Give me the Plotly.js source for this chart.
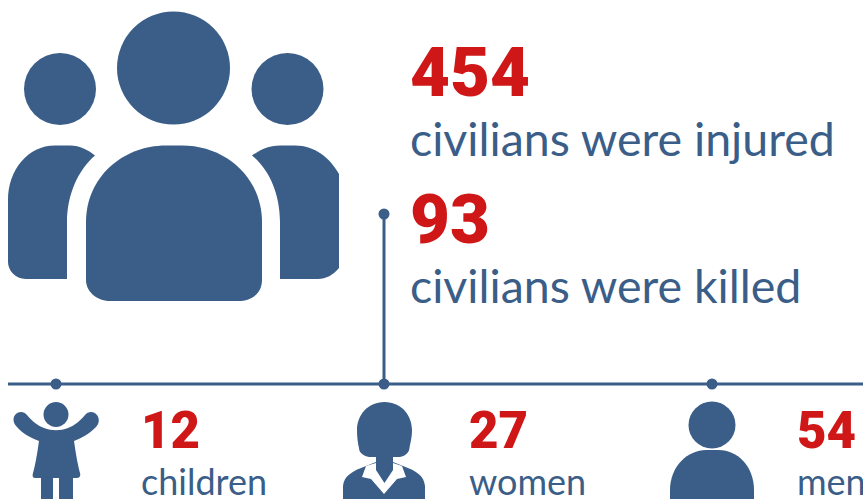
<!DOCTYPE html>
<html>
<head>
<meta charset="utf-8">
<script src="https://cdn.plot.ly/plotly-3.0.1.min.js"></script>
<style>html,body{margin:0;padding:0;background:#fff;overflow:hidden}#chart{width:863px;height:499px}</style>
</head>
<body>
<div id="chart"></div>
<script>
// Casualty totals
const totalValues = [454, 93];
const totalLabels = ['civilians were injured', 'civilians were killed'];
// Breakdown of those killed
const groupValues = [12, 27, 54];
const groupLabels = ['children', 'women', 'men'];

const BLUE = '#3a5e87';
const RED = '#cf1717';
const FONT = 'Lato, sans-serif';
const NUMBER_FONT = 'Roboto, sans-serif';

// Layout positions, in page pixels
const totalX = 411, totalNumberY = [97, 244], totalLabelY = [156, 303];
const groupDotX = [56, 384, 712], groupTextX = [142, 470, 798];
const ruleY = 384, stemTopY = 214;

// Icon outlines
const solid = (path) => ({type: 'path', path, fillcolor: BLUE, line: {width: 0}, layer: 'above'});
const blank = (path) => ({type: 'path', path, fillcolor: '#ffffff', line: {width: 0}, layer: 'above'});
const disc = (cx, cy, r) => ({type: 'circle', x0: cx - r, x1: cx + r, y0: cy - r, y1: cy + r, fillcolor: BLUE, line: {width: 0}, layer: 'above'});

const crowdIcon = [
  disc(173.5, 68, 56.5), disc(60, 89, 36), disc(287.5, 89, 36),
  solid('M86 222 C86 178 122 145.5 166 145.5 L182 145.5 C226 145.5 262 178 262 222 L262 280 C262 293 252 301 238 301 L110 301 C96 301 86 291 86 280 Z'),
  solid('M8 200 C8 170 28 145.5 55 145.5 L70 145.5 C80 145.5 88 150 95 155.5 C78 170 67 195 67 222 L67 279 L26 279 C15 279 8 270 8 262 Z'),
  solid('M252 155.5 C260 150 268 145.5 280 145.5 L295 145.5 C315 145.5 330 158 339 174 L339 268 C333 275 326 279 318 279 L280 279 L280 222 C280 195 270 170 252 155.5 Z')
];

const childIcon = [
  disc(56, 414.5, 12.5),
  solid('M15 415 C18 411 24 411 27 415 C32 421 38 426 44 428 C52 431 60 431 68 428 C74 426 80 421 85 415 C88 411 94 411 97 415 C100 419 99 424 96 427 C89 434 82 438 74 441 C76 455 78 466 80 473 C81 477 79 478 76 478 L73 478 L73 499 L59 499 L59 478 L53 478 L53 499 L41 499 L41 478 L36 478 C33 478 32 477 33 473 C35 466 37 455 39 441 C31 438 23 434 17 427 C14 424 12 419 15 415 Z')
];

const womanIcon = [
  solid('M384.5 402 C402 402 412 416 412 430 C412 438 410 444 409.5 448 C409 453 405 456 400 457 L369 457 C364 456 359 453 359 448 C358 444 357 438 357 430 C357 416 367 402 384.5 402 Z'),
  solid('M343 499 L343 486 C344 476 352 471 366 466 L376 462 L376 450 L393 450 L393 462 L403 466 C417 471 424 476 425 486 L425 499 Z'),
  blank('M366 466 L376 463 L376 468 L384 482 L393 468 L393 463 L402 466 L406 477 L397 479 L384 494 L371 479 L362 477 Z'),
  solid('M376 455 L393 455 L393 470 L384.5 483 L376 470 Z')
];

const manIcon = [
  disc(712, 425, 23.5),
  solid('M670 499 L670 490 C670 466 688 450 706 450 L719 450 C737 450 754 466 754 490 L754 499 Z')
];

// Horizontal rule plus the stem rising to the killed total
const rule = {x: [8, 863], y: [ruleY, ruleY], mode: 'lines', line: {color: BLUE, width: 3}, hoverinfo: 'skip'};
const stem = {x: [groupDotX[1], groupDotX[1]], y: [ruleY, stemTopY], mode: 'lines', line: {color: BLUE, width: 3}, hoverinfo: 'skip'};
const dots = {
  x: [...groupDotX, groupDotX[1]],
  y: [...groupDotX.map(() => ruleY), stemTopY],
  mode: 'markers',
  marker: {color: BLUE, size: 11, line: {width: 0}},
  hoverinfo: 'skip'
};

const note = (text, x, y, size, color, weight, family, anchor) => ({
  text: String(text), x, y, xref: 'x', yref: 'y',
  xanchor: 'left', yanchor: anchor || 'bottom', showarrow: false, borderpad: 0,
  font: {family, size, color, weight}
});

const annotations = [];
totalValues.forEach((v, i) => {
  annotations.push(note(v, totalX - 2, totalNumberY[i] + 17, 69, RED, 900, NUMBER_FONT));
  annotations.push(note(totalLabels[i], totalX - 2, totalLabelY[i] + 11, 46.5, BLUE, 400, FONT));
});
groupValues.forEach((v, i) => {
  annotations.push(note(v, groupTextX[i] - 2, 449 + 12, 51, RED, 900, NUMBER_FONT));
  annotations.push(note(groupLabels[i], groupTextX[i] - 2, 458, 36, BLUE, 400, FONT, 'top'));
});

const axis = {visible: false, fixedrange: true, showgrid: false, zeroline: false};

Plotly.newPlot('chart', [rule, stem, dots], {
  width: 863, height: 499,
  margin: {l: 0, r: 0, t: 0, b: 0},
  paper_bgcolor: '#ffffff', plot_bgcolor: '#ffffff',
  showlegend: false,
  xaxis: {...axis, range: [0, 863]},
  yaxis: {...axis, range: [499, 0]},
  shapes: [...crowdIcon, ...childIcon, ...womanIcon, ...manIcon],
  annotations
}, {displayModeBar: false, staticPlot: true});
</script>
</body>
</html>
